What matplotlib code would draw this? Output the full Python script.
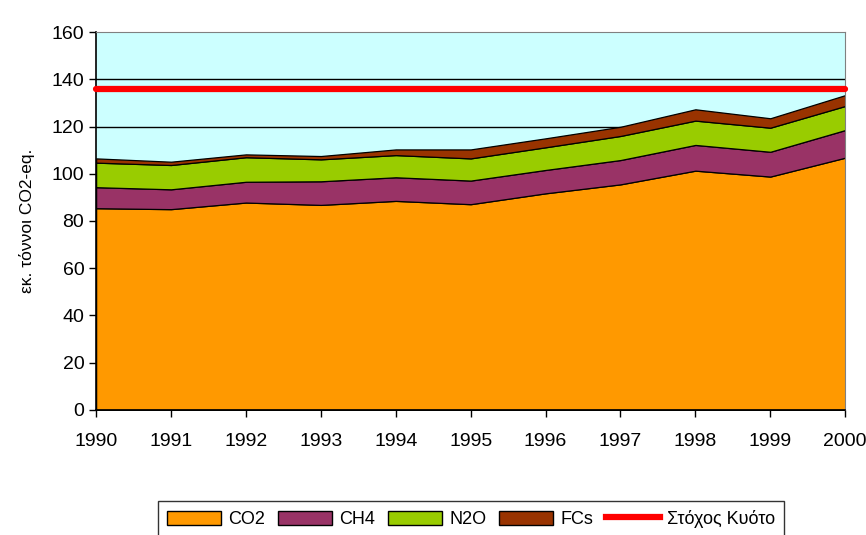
"""Greenhouse gas emissions 1990-2000, stacked area vs Kyoto target."""
import matplotlib
matplotlib.use('Agg')
import matplotlib.pyplot as plt
from matplotlib.patches import Patch
from matplotlib.lines import Line2D

years = [1990, 1991, 1992, 1993, 1994, 1995, 1996, 1997, 1998, 1999, 2000]
# cumulative tops, converted to per-gas amounts below
co2_top = [85.4, 85.0, 87.8, 86.8, 88.5, 87.1, 91.7, 95.5, 101.3, 98.8, 106.8]
ch4_top = [94.3, 93.4, 96.6, 96.8, 98.5, 97.1, 101.6, 105.8, 112.2, 109.3, 118.5]
n2o_top = [104.7, 103.7, 107.0, 106.1, 107.9, 106.5, 111.2, 116.0, 122.5, 119.5, 128.7]
fcs_top = [106.5, 105.1, 108.2, 107.5, 110.3, 110.3, 115.0, 119.9, 127.3, 123.5, 133.3]
kyoto = 136.0

co2 = co2_top
ch4 = [b - a for a, b in zip(co2_top, ch4_top)]
n2o = [b - a for a, b in zip(ch4_top, n2o_top)]
fcs = [b - a for a, b in zip(n2o_top, fcs_top)]

labels = ['CO2', 'CH4', 'N2O', 'FCs']
colors = ['#FF9900', '#993366', '#99CC00', '#993300']

plt.rcParams['font.family'] = ['Liberation Sans Narrow', 'Liberation Sans', 'DejaVu Sans']

fig = plt.figure(figsize=(8.66, 5.35), dpi=100)
ax = fig.add_axes([0.111, 0.234, 0.865, 0.706])
ax.set_facecolor('#CCFFFF')

for y in range(20, 160, 20):
    ax.axhline(y, color='black', lw=1.0, zorder=1)

ax.stackplot(years, co2, ch4, n2o, fcs, colors=colors,
             edgecolor='black', linewidth=0.9, zorder=2)
ax.plot([years[0], years[-1]], [kyoto, kyoto], color='#FF0000', lw=4.5,
        solid_capstyle='round', zorder=3, clip_on=False)

ax.set_xlim(1990, 2000)
ax.set_ylim(0, 160)
ax.set_xticks(years)
ax.set_yticks(range(0, 161, 20))
ax.tick_params(axis='both', direction='out', length=5, width=1, labelsize=14)
ax.tick_params(axis='x', pad=12)
for s in ('top', 'right'):
    ax.spines[s].set_color('#808080')
for s in ('left', 'bottom'):
    ax.spines[s].set_linewidth(1.2)

ax.set_ylabel('εκ. τόννοι CO2-eq.', fontsize=12.5, labelpad=12)

handles = [Patch(facecolor=c, edgecolor='black', label=l) for c, l in zip(colors, labels)]
handles.append(Line2D([], [], color='#FF0000', lw=4.5, label='Στόχος Κυότο'))
leg = fig.legend(handles=handles, loc='center', bbox_to_anchor=(0.544, 0.030),
                 ncol=5, fontsize=13, frameon=True, fancybox=False,
                 handlelength=3.0, handleheight=0.8, handletextpad=0.4,
                 columnspacing=0.7, borderpad=0.5)
leg.get_frame().set_edgecolor('black')
leg.get_frame().set_linewidth(1.0)

fig.savefig('out.png', dpi=100)
